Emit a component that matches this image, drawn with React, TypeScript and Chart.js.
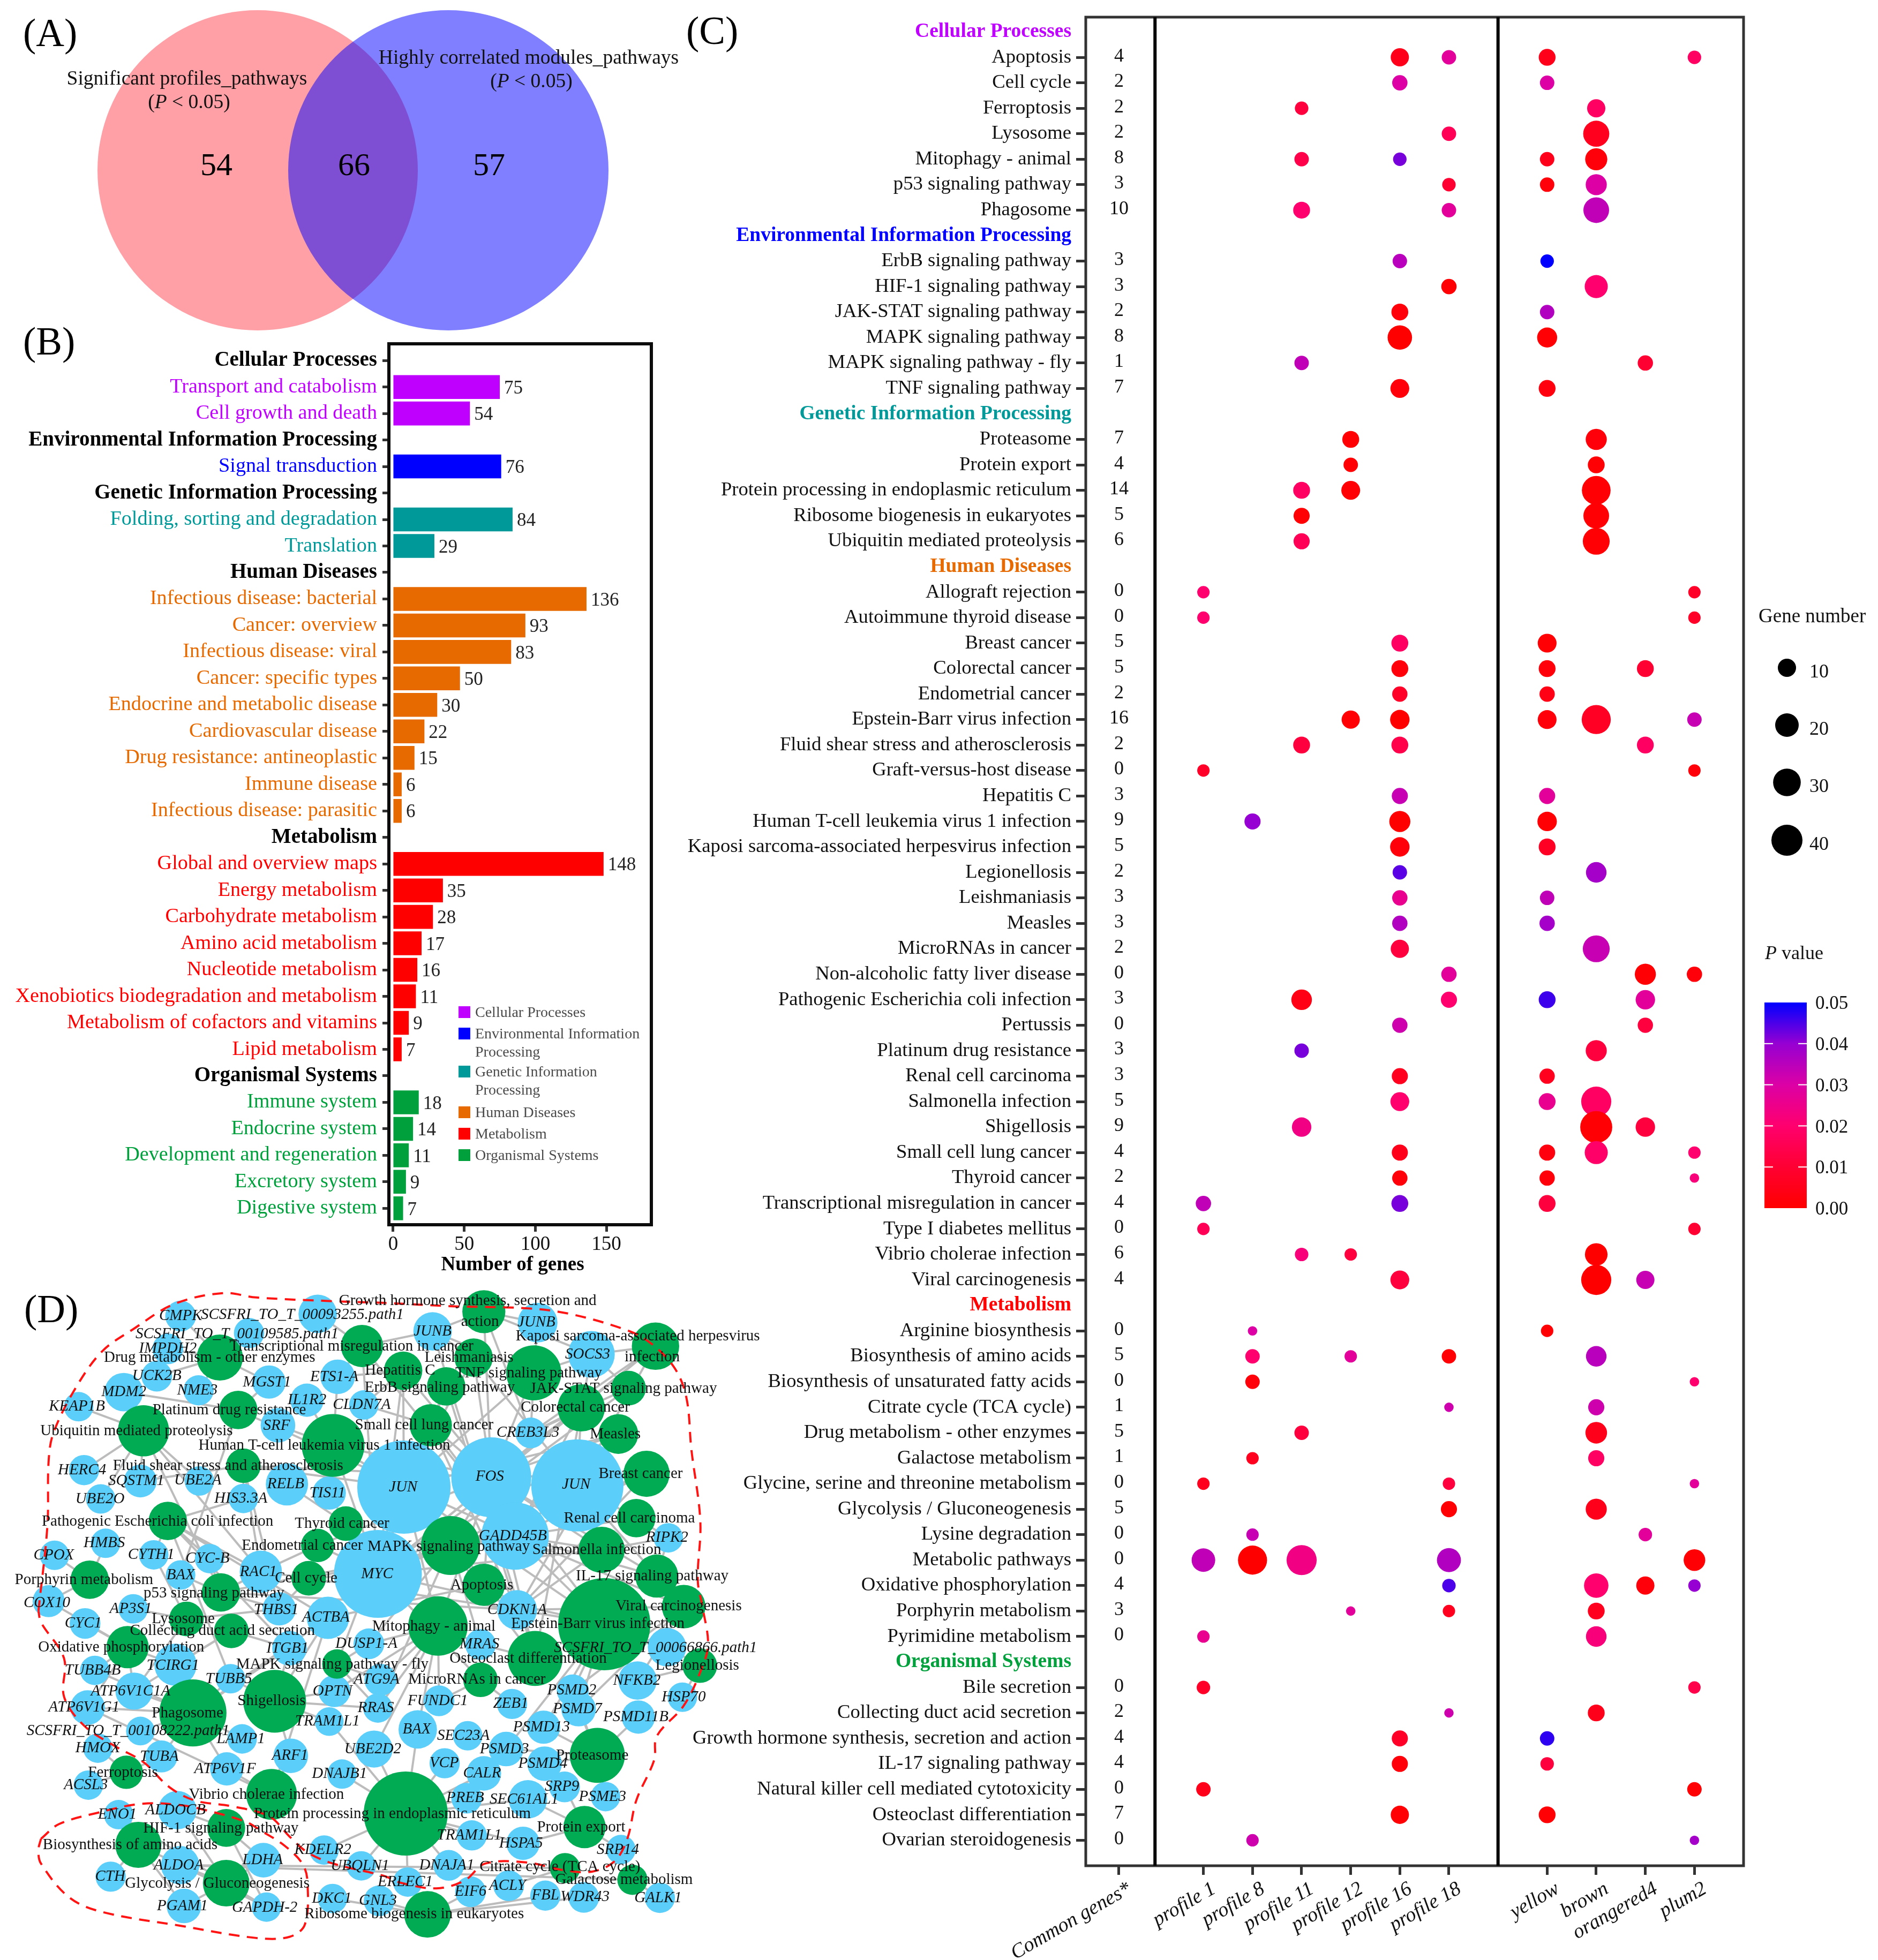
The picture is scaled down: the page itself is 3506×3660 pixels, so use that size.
import { useEffect, useRef } from "react";
import { Chart, registerables } from "chart.js";

Chart.register(...registerables);

const SERIF = '"Liberation Serif", serif';
Chart.defaults.font.family = SERIF;

/* ---------- Panel A: Venn ---------- */
const vennSets = [
  { x: 481, y: 318, r: 299 },
  { x: 837, y: 318, r: 299 },
];
const vennCounts = ["54", "66", "57"];

/* ---------- Panel B: bars ---------- */
const barGroupNames = ["Cellular Processes", "Environmental Information Processing", "Genetic Information Processing", "Human Diseases", "Metabolism", "Organismal Systems"];
const groupColors = ["#bf00ff", "#0000ff", "#009999", "#e66a00", "#ff0000", "#00a03c"];
const barCategories = [
  ["Transport and catabolism", "Cell growth and death"],
  ["Signal transduction"],
  ["Folding, sorting and degradation", "Translation"],
  ["Infectious disease: bacterial", "Cancer: overview", "Infectious disease: viral", "Cancer: specific types", "Endocrine and metabolic disease", "Cardiovascular disease", "Drug resistance: antineoplastic", "Immune disease", "Infectious disease: parasitic"],
  ["Global and overview maps", "Energy metabolism", "Carbohydrate metabolism", "Amino acid metabolism", "Nucleotide metabolism", "Xenobiotics biodegradation and metabolism", "Metabolism of cofactors and vitamins", "Lipid metabolism"],
  ["Immune system", "Endocrine system", "Development and regeneration", "Excretory system", "Digestive system"],
];
const barLengths = [
  [75, 54],
  [76],
  [84, 29],
  [136, 93, 83, 47, 31, 22, 15, 6, 6],
  [148, 35, 28, 20, 17, 16, 11, 6],
  [18, 14, 11, 9, 7],
];
const barCountLabels = [
  [75, 54],
  [76],
  [84, 29],
  [136, 93, 83, 50, 30, 22, 15, 6, 6],
  [148, 35, 28, 17, 16, 11, 9, 7],
  [18, 14, 11, 9, 7],
];
const barXTicks = [0, 50, 100, 150];

/* ---------- Panel C: dot plot ---------- */
const pathwayGroups = [
  ["Apoptosis", "Cell cycle", "Ferroptosis", "Lysosome", "Mitophagy - animal", "p53 signaling pathway", "Phagosome"],
  ["ErbB signaling pathway", "HIF-1 signaling pathway", "JAK-STAT signaling pathway", "MAPK signaling pathway", "MAPK signaling pathway - fly", "TNF signaling pathway"],
  ["Proteasome", "Protein export", "Protein processing in endoplasmic reticulum", "Ribosome biogenesis in eukaryotes", "Ubiquitin mediated proteolysis"],
  ["Allograft rejection", "Autoimmune thyroid disease", "Breast cancer", "Colorectal cancer", "Endometrial cancer", "Epstein-Barr virus infection", "Fluid shear stress and atherosclerosis", "Graft-versus-host disease", "Hepatitis C", "Human T-cell leukemia virus 1 infection", "Kaposi sarcoma-associated herpesvirus infection", "Legionellosis", "Leishmaniasis", "Measles", "MicroRNAs in cancer", "Non-alcoholic fatty liver disease", "Pathogenic Escherichia coli infection", "Pertussis", "Platinum drug resistance", "Renal cell carcinoma", "Salmonella infection", "Shigellosis", "Small cell lung cancer", "Thyroid cancer", "Transcriptional misregulation in cancer", "Type I diabetes mellitus", "Vibrio cholerae infection", "Viral carcinogenesis"],
  ["Arginine biosynthesis", "Biosynthesis of amino acids", "Biosynthesis of unsaturated fatty acids", "Citrate cycle (TCA cycle)", "Drug metabolism - other enzymes", "Galactose metabolism", "Glycine, serine and threonine metabolism", "Glycolysis / Gluconeogenesis", "Lysine degradation", "Metabolic pathways", "Oxidative phosphorylation", "Porphyrin metabolism", "Pyrimidine metabolism"],
  ["Bile secretion", "Collecting duct acid secretion", "Growth hormone synthesis, secretion and action", "IL-17 signaling pathway", "Natural killer cell mediated cytotoxicity", "Osteoclast differentiation", "Ovarian steroidogenesis"],
];
const commonGeneCounts = [
  [4, 2, 2, 2, 8, 3, 10],
  [3, 3, 2, 8, 1, 7],
  [7, 4, 14, 5, 6],
  [0, 0, 5, 5, 2, 16, 2, 0, 3, 9, 5, 2, 3, 3, 2, 0, 3, 0, 3, 3, 5, 9, 4, 2, 4, 0, 6, 4],
  [0, 5, 0, 1, 5, 1, 0, 5, 0, 0, 4, 3, 0],
  [0, 2, 4, 4, 0, 7, 0],
];
const columnNames = ["Common genes*", "profile 1", "profile 8", "profile 11", "profile 12", "profile 16", "profile 18", "yellow", "brown", "orangered4", "plum2"];
const columnPositions = [0, 1.72, 2.72, 3.72, 4.72, 5.72, 6.72, 8.72, 9.72, 10.72, 11.72];
const facetDividers = [0.734, 7.72];

// each dot: [row index, gene number, P value]
const profile1 = [[22, 3, 0.02], [23, 3, 0.02], [29, 3, 0.008], [46, 6, 0.034], [47, 3, 0.016], [57, 3, 0.006], [60, 20, 0.034], [63, 3, 0.026], [65, 4, 0.008], [69, 5, 0.005]];
const profile8 = [[31, 7, 0.04], [51, 1, 0.03], [52, 5, 0.02], [53, 5, 0.002], [56, 3, 0.006], [59, 3, 0.033], [60, 34, 0], [71, 3, 0.032]];
const profile11 = [[3, 4, 0.012], [5, 5, 0.014], [7, 8, 0.02], [13, 5, 0.034], [18, 8, 0.018], [19, 7, 0.001], [20, 7, 0.016], [28, 8, 0.012], [38, 14, 0.004], [40, 5, 0.042], [43, 12, 0.024], [48, 4, 0.022], [55, 5, 0.012], [60, 37, 0.024]];
const profile12 = [[16, 8, 0.001], [17, 5, 0.001], [18, 11, 0.001], [27, 10, 0.001], [48, 3, 0.012], [52, 3, 0.028], [62, 1, 0.028]];
const profile16 = [[1, 10, 0.005], [2, 6, 0.03], [5, 4, 0.042], [9, 5, 0.035], [11, 8, 0.002], [12, 22, 0], [14, 11, 0.002], [24, 8, 0.018], [25, 8, 0.002], [26, 6, 0.008], [27, 12, 0], [28, 8, 0.014], [30, 7, 0.033], [31, 15, 0], [32, 12, 0.002], [33, 5, 0.044], [34, 6, 0.026], [35, 6, 0.036], [36, 10, 0.012], [39, 6, 0.032], [41, 7, 0.006], [42, 11, 0.02], [44, 7, 0.005], [45, 6, 0.002], [46, 8, 0.042], [49, 11, 0.012], [67, 7, 0.008], [68, 7, 0.002], [70, 10, 0.001]];
const profile18 = [[1, 5, 0.028], [4, 5, 0.016], [6, 4, 0.01], [7, 5, 0.028], [10, 6, 0.001], [37, 6, 0.028], [38, 7, 0.02], [52, 5, 0.001], [54, 1, 0.032], [57, 3, 0.012], [58, 7, 0.001], [60, 21, 0.036], [61, 4, 0.045], [62, 3, 0.006], [66, 1, 0.032]];
const moduleYellow = [[1, 8, 0.005], [2, 5, 0.03], [5, 5, 0.005], [6, 5, 0.002], [9, 4, 0.05], [11, 5, 0.036], [12, 13, 0.001], [14, 8, 0.003], [24, 11, 0.001], [25, 8, 0.002], [26, 6, 0.004], [27, 11, 0.002], [30, 7, 0.028], [31, 12, 0.001], [32, 8, 0.007], [34, 5, 0.034], [35, 6, 0.038], [38, 8, 0.046], [41, 6, 0.006], [42, 8, 0.026], [44, 7, 0.003], [45, 6, 0.002], [46, 8, 0.012], [51, 3, 0.001], [67, 5, 0.047], [68, 4, 0.012], [70, 8, 0.001]];
const moduleBrown = [[3, 10, 0.018], [4, 26, 0.006], [5, 17, 0.002], [6, 15, 0.03], [7, 25, 0.034], [10, 19, 0.02], [16, 15, 0.002], [17, 8, 0.001], [18, 33, 0.001], [19, 25, 0.001], [20, 28, 0.001], [27, 34, 0.007], [33, 14, 0.038], [36, 28, 0.033], [40, 15, 0.012], [42, 37, 0.018], [43, 43, 0.001], [44, 19, 0.019], [48, 18, 0], [49, 37, 0], [52, 14, 0.035], [54, 7, 0.032], [55, 16, 0.005], [56, 7, 0.018], [58, 15, 0.005], [61, 22, 0.02], [62, 8, 0.006], [63, 14, 0.022], [66, 8, 0.005]];
const moduleOrangered4 = [[13, 6, 0.01], [25, 8, 0.01], [28, 8, 0.018], [37, 15, 0.001], [38, 12, 0.028], [39, 6, 0.012], [43, 12, 0.012], [49, 10, 0.033], [59, 4, 0.028], [61, 10, 0.002]];
const modulePlum2 = [[1, 4, 0.018], [22, 3, 0.008], [23, 3, 0.008], [27, 5, 0.033], [29, 3, 0.002], [37, 6, 0.002], [44, 3, 0.02], [45, 1, 0.022], [47, 3, 0.01], [53, 1, 0.02], [57, 1, 0.028], [60, 16, 0.001], [61, 3, 0.04], [65, 3, 0.014], [69, 5, 0.001], [71, 1, 0.038]];
const dotColumns = [profile1, profile8, profile11, profile12, profile16, profile18, moduleYellow, moduleBrown, moduleOrangered4, modulePlum2];
const geneLegendValues = [10, 20, 30, 40];
const pLegendValues = ["0.05", "0.04", "0.03", "0.02", "0.01", "0.00"];
const pColorStops: [number, number[]][] = [[0, [255, 0, 0]], [0.01, [255, 0, 51]], [0.02, [255, 0, 110]], [0.03, [220, 0, 165]], [0.04, [150, 0, 210]], [0.05, [0, 0, 255]]];

/* ---------- Panel D: network (layout read from four quadrants of the picture) ---------- */
// node: [label, layout x, layout y, node width, label x, label y, second-line label x]
const genesNW: any[] = [
  ["CMPK", 705, 190, 120], ["SCSFRI_TO_T_00093255.path1", 1240, 180, 150, 1180, 185], ["SCSFRI_TO_T_00109585.path1", 972, 268, 118, 925, 272],
  ["IMPDH2", 655, 340, 120], ["UCK2B", 612, 465, 120], ["MDM2", 483, 538, 150], ["NME3", 775, 530, 118, 770, 530], ["MGST1", 1050, 492, 130, 1042, 494],
  ["ETS1-A", 1318, 468, 135, 1305, 468], ["IL1R2", 1198, 575, 130], ["CLDN7A", 1420, 597, 115, 1412, 597], ["KEAP1B", 307, 605, 115, 300, 605],
  ["SRF", 1085, 690, 135, 1080, 692], ["HERC4", 328, 895, 118, 320, 895], ["SQSTM1", 548, 945, 128, 532, 945], ["UBE2A", 778, 945, 115, 772, 943],
  ["RELB", 1120, 960, 165, 1115, 960], ["TIS11", 1285, 1000, 130, 1278, 1000], ["HIS3.3A", 950, 1025, 115, 940, 1025], ["UBE2O", 393, 1027, 115, 390, 1027],
  ["HMBS", 412, 1230, 115, 407, 1230], ["CPOX", 213, 1285, 115, 210, 1285], ["CYTH1", 600, 1283, 115, 590, 1283], ["CYC-B", 818, 1300, 115, 810, 1300],
  ["BAX", 705, 1375, 115], ["RAC1", 1018, 1360, 165, 1008, 1360], ["COX10", 190, 1495, 125, 183, 1503], ["AP3S1", 520, 1530, 115, 510, 1530],
  ["THBS1", 1090, 1530, 130, 1078, 1535], ["MYC", 1475, 1370, 343, 1472, 1370],
];
const genesNE: any[] = [
  ["JUN", 113, 973, 364, 110, 975], ["FOS", 454, 928, 312, 448, 925], ["JUN#2", 790, 965, 360, 785, 962], ["GADD45B", 547, 1197, 263, 538, 1197],
  ["CREB3L3", 608, 725, 120, 597, 725], ["SOCS3", 845, 365, 182, 830, 365], ["JUNB", 225, 260, 150], ["JUNB#2", 635, 220, 155, 630, 220],
  ["RIPK2", 1145, 1205, 115, 1140, 1205], ["CDKN1A", 555, 1535, 155],
];
const genesSW: any[] = [
  ["CYC1", 332, 75, 120, 325, 75], ["TUBB4B", 370, 283, 115, 362, 283], ["TCIRG1", 685, 258, 165, 675, 262], ["ITGB1", 1130, 185, 135, 1122, 185],
  ["DUSP1-A", 1440, 165, 120, 1430, 165], ["ACTBA", 1280, 50, 165, 1272, 48], ["TUBB5", 900, 320, 115, 893, 322], ["ATG9A", 1485, 325, 125, 1470, 325],
  ["OPTN", 1305, 375, 125, 1298, 375], ["ATP6V1C1A", 523, 375, 145, 510, 375], ["ATP6V1G1", 342, 448, 135, 328, 448], ["RRAS", 1475, 450, 115, 1467, 450],
  ["TRAM1L1", 1285, 510, 112, 1278, 510], ["SCSFRI_TO_T_00108222.path1", 548, 552, 112, 500, 552], ["LAMP1", 945, 587, 115, 940, 587], ["HMOX", 382, 628, 115],
  ["UBE2D2", 1460, 632, 145, 1455, 632], ["ARF1", 1135, 662, 135, 1132, 662], ["TUBA", 630, 665, 125, 622, 665], ["ATP6V1F", 885, 720, 130, 878, 720],
  ["DNAJB1", 1335, 743, 115, 1325, 743], ["ACSL3", 345, 792, 115, 335, 792], ["ALDOCB", 692, 903, 150, 685, 903], ["ENO1", 463, 923, 115, 458, 923],
  ["KDELR2", 1265, 1080, 115, 1260, 1080], ["LDHA", 1028, 1125, 135, 1025, 1125], ["UBQLN1", 1410, 1150, 115, 1405, 1150], ["ALDOA", 703, 1147, 150, 697, 1147],
  ["CTH", 432, 1198, 118, 430, 1198], ["DKC1", 1298, 1295, 115, 1295, 1295], ["GNL3", 1480, 1305, 120, 1475, 1305], ["PGAM1", 718, 1328, 135, 712, 1328],
  ["GAPDH-2", 1040, 1333, 115, 1033, 1335],
];
const genesSE: any[] = [
  ["MRAS", 412, 168, 120, 408, 168], ["SCSFRI_TO_T_00066866.path1", 1140, 180, 150, 1095, 183], ["NFKB2", 1025, 328, 150, 1022, 328], ["PSMD2", 772, 372, 125, 768, 372],
  ["FUNDC1", 250, 418, 120, 245, 418], ["ZEB1", 535, 432, 118, 530, 432], ["HSP70", 1200, 402, 115, 1205, 402], ["PSMD7", 795, 455, 135, 790, 455],
  ["PSMD11B", 1028, 490, 130, 1018, 490], ["PSMD13", 658, 535, 130, 650, 535], ["BAX#2", 167, 545, 150, 163, 545], ["SEC23A", 362, 573, 115, 345, 573],
  ["PSMD3", 512, 632, 135, 505, 632], ["PSMD4", 662, 697, 135, 655, 697], ["VCP", 272, 695, 118, 270, 695], ["CALR", 425, 740, 135, 418, 740],
  ["SRP9", 740, 800, 120, 730, 800], ["PREB", 358, 850, 120, 352, 850], ["PSME3", 900, 843, 115, 888, 843], ["SEC61AL1", 597, 855, 150, 582, 855],
  ["TRAM1L1#2", 378, 1015, 118, 368, 1015], ["HSPA5", 578, 1050, 130, 570, 1050], ["SRP14", 960, 1078, 115, 948, 1080], ["DNAJA1", 288, 1148, 120, 280, 1148],
  ["ERLEC1", 128, 1222, 115, 118, 1222], ["EIF6", 373, 1265, 120], ["ACLY", 522, 1238, 120, 517, 1238], ["FBL", 665, 1282, 118, 665, 1280],
  ["WDR43", 815, 1290, 120, 820, 1288], ["GALK1", 1112, 1292, 118, 1105, 1292],
];
const pathwaysNW: any[] = [
  ["Transcriptional misregulation in cancer", 1413, 327, 165, 1372, 330], ["Drug metabolism - other enzymes", 858, 380, 180, 818, 382], ["Platinum drug resistance", 930, 620, 150, 895, 620],
  ["Ubiquitin mediated proteolysis", 560, 715, 200, 533, 717], ["Human T-cell leukemia virus 1 infection", 1300, 782, 245, 1266, 782], ["Fluid shear stress and atherosclerosis", 950, 875, 135, 890, 877],
  ["Pathogenic Escherichia coli infection", 655, 1128, 150, 615, 1130], ["Thyroid cancer", 1350, 1140, 135, 1335, 1140], ["Endometrial cancer", 1240, 1240, 130, 1180, 1240],
  ["Cell cycle", 1205, 1390, 135, 1195, 1390], ["Porphyrin metabolism", 350, 1397, 150, 328, 1398], ["p53 signaling pathway", 862, 1455, 150, 835, 1460],
];
const pathwaysNE: any[] = [
  ["Small cell lung cancer", 218, 690, 165, 192, 690], ["Hepatitis C", 110, 440, 150, 98, 440], ["ErbB signaling pathway", 278, 512, 150, 253, 517],
  ["Growth hormone synthesis, secretion and\naction", 425, 170, 168, 362, 170, 410], ["Leishmaniasis", 385, 380, 150, 367, 382], ["TNF signaling pathway", 620, 450, 215, 600, 452],
  ["Kaposi sarcoma-associated herpesvirus\ninfection", 1095, 328, 185, 1026, 330, 1082], ["JAK-STAT signaling pathway", 990, 520, 135, 970, 522], ["Colorectal cancer", 805, 610, 185, 782, 610],
  ["Measles", 950, 730, 155, 938, 732], ["Breast cancer", 1060, 912, 180, 1037, 912], ["MAPK signaling pathway", 295, 1240, 230, 288, 1245],
  ["Renal cell carcinoma", 1020, 1115, 150, 993, 1115], ["Salmonella infection", 885, 1260, 180, 866, 1260], ["Apoptosis", 425, 1420, 165, 417, 1422],
  ["IL-17 signaling pathway", 1100, 1380, 168, 1082, 1382], ["Viral carcinogenesis", 1205, 1520, 170, 1185, 1518],
];
const pathwaysSW: any[] = [
  ["Lysosome", 728, 55, 135, 715, 55], ["Collecting duct acid secretion", 903, 108, 135, 868, 108], ["Oxidative phosphorylation", 498, 180, 165, 473, 182],
  ["MAPK signaling pathway - fly", 1315, 255, 115, 1297, 258], ["Phagosome", 753, 472, 262, 732, 473], ["Shigellosis", 1072, 420, 245, 1060, 420], ["Ferroptosis", 493, 735, 130, 480, 738],
  ["Vibrio cholerae infection", 1060, 833, 198, 1040, 835], ["HIF-1 signaling pathway", 883, 982, 148, 862, 985], ["Biosynthesis of amino acids", 540, 1057, 180, 508, 1058],
  ["Glycolysis / Gluconeogenesis", 883, 1227, 182, 848, 1228],
];
const pathwaysSE: any[] = [
  ["Epstein-Barr virus infection", 895, 78, 360, 870, 78], ["Mitophagy - animal", 246, 86, 232, 230, 88], ["Osteoclast differentiation", 625, 230, 215, 598, 232], ["MicroRNAs in cancer", 412, 325, 135, 398, 325],
  ["Legionellosis", 1268, 262, 135, 1258, 262], ["Proteasome", 868, 660, 215, 848, 662], ["Protein processing in endoplasmic reticulum", 120, 918, 328, 68, 920],
  ["Protein export", 818, 978, 165, 805, 980], ["Citrate cycle (TCA cycle)", 742, 1160, 118, 722, 1155], ["Galactose metabolism", 1005, 1212, 118, 972, 1212],
  ["Ribosome biogenesis in eukaryotes", 205, 1365, 182, 153, 1365],
];
const pathwayGeneLinks: [string, string[]][] = [
  ["Drug metabolism - other enzymes", ["CMPK", "IMPDH2", "UCK2B", "NME3", "MGST1", "SCSFRI_TO_T_00109585.path1"]],
  ["Transcriptional misregulation in cancer", ["SCSFRI_TO_T_00093255.path1", "ETS1-A", "JUNB", "MYC", "GADD45B"]],
  ["Hepatitis C", ["ETS1-A", "CLDN7A", "FOS", "JUN", "MYC"]],
  ["ErbB signaling pathway", ["JUN", "MYC", "CDKN1A"]],
  ["Platinum drug resistance", ["MDM2", "MGST1", "BAX", "GADD45B"]],
  ["Ubiquitin mediated proteolysis", ["KEAP1B", "HERC4", "UBE2O", "UBE2A", "SQSTM1", "MDM2", "RAC1"]],
  ["Human T-cell leukemia virus 1 infection", ["SRF", "ETS1-A", "TIS11", "RELB", "FOS", "JUN", "MYC", "IL1R2"]],
  ["Fluid shear stress and atherosclerosis", ["HIS3.3A", "JUN", "FOS", "RAC1", "SQSTM1", "THBS1"]],
  ["Pathogenic Escherichia coli infection", ["CYC-B", "RAC1", "ACTBA", "TUBB5", "ITGB1", "CYTH1", "HIS3.3A"]],
  ["Thyroid cancer", ["TIS11", "MYC", "RELB"]],
  ["Endometrial cancer", ["MYC", "FOS", "RAC1"]],
  ["Cell cycle", ["MYC", "GADD45B", "CDKN1A", "RAC1", "THBS1"]],
  ["Porphyrin metabolism", ["CPOX", "COX10", "HMBS"]],
  ["p53 signaling pathway", ["BAX", "CYC-B", "THBS1", "GADD45B", "CDKN1A", "MDM2", "RAC1"]],
  ["Lysosome", ["AP3S1", "CYTH1", "ATP6V1C1A", "THBS1"]],
  ["Collecting duct acid secretion", ["ATP6V1C1A", "TCIRG1", "ITGB1"]],
  ["Oxidative phosphorylation", ["COX10", "CYC1", "TCIRG1", "ATP6V1C1A", "ATP6V1G1", "TUBB4B"]],
  ["Phagosome", ["TUBB4B", "ATP6V1C1A", "ATP6V1G1", "TUBA", "TUBB5", "LAMP1", "ATP6V1F", "ITGB1", "ACTBA", "SCSFRI_TO_T_00108222.path1", "TCIRG1"]],
  ["Shigellosis", ["TUBB5", "ACTBA", "ITGB1", "ARF1", "OPTN", "TRAM1L1", "RRAS"]],
  ["Ferroptosis", ["ACSL3", "HMOX", "TUBA"]],
  ["Vibrio cholerae infection", ["ATP6V1F", "ARF1", "ATP6V1G1", "ACTBA"]],
  ["Protein processing in endoplasmic reticulum", ["KDELR2", "UBQLN1", "ERLEC1", "DNAJA1", "TRAM1L1#2", "PREB", "CALR", "VCP", "BAX#2", "UBE2D2", "DNAJB1", "SEC61AL1", "HSPA5", "TRAM1L1"]],
  ["MAPK signaling pathway - fly", ["JUN", "DUSP1-A", "RRAS", "OPTN", "ATG9A"]],
  ["Mitophagy - animal", ["ATG9A", "OPTN", "JUN", "FOS", "BAX#2", "RRAS", "FUNDC1", "MRAS", "DUSP1-A", "UBE2D2"]],
  ["Osteoclast differentiation", ["JUN", "FOS", "JUNB", "SOCS3", "MRAS"]],
  ["MicroRNAs in cancer", ["ZEB1", "FUNDC1", "MYC"]],
  ["Proteasome", ["PSMD2", "PSMD7", "PSMD11B", "PSMD13", "PSMD3", "PSMD4", "PSME3"]],
  ["Protein export", ["SEC61AL1", "HSPA5", "SRP9", "SRP14"]],
  ["Ribosome biogenesis in eukaryotes", ["DKC1", "GNL3", "EIF6", "FBL", "WDR43"]],
  ["Citrate cycle (TCA cycle)", ["ACLY", "ALDOA"]],
  ["Galactose metabolism", ["GALK1", "ALDOA"]],
  ["Glycolysis / Gluconeogenesis", ["ALDOA", "LDHA", "GAPDH-2", "PGAM1", "ENO1", "ALDOCB"]],
  ["Biosynthesis of amino acids", ["CTH", "ENO1", "ALDOA", "PGAM1", "GAPDH-2"]],
  ["HIF-1 signaling pathway", ["ALDOCB", "LDHA", "GAPDH-2"]],
  ["Epstein-Barr virus infection", ["JUN", "FOS", "MYC", "GADD45B", "CDKN1A", "PSMD2", "PSMD7", "PSMD13", "PSMD3", "NFKB2", "SCSFRI_TO_T_00066866.path1"]],
  ["Viral carcinogenesis", ["JUN#2", "CDKN1A", "NFKB2", "PSMD2", "PSMD7", "GADD45B"]],
  ["Legionellosis", ["NFKB2", "HSP70", "SCSFRI_TO_T_00066866.path1"]],
  ["Salmonella infection", ["FOS", "JUN#2", "RIPK2", "GADD45B", "MYC", "CDKN1A"]],
  ["IL-17 signaling pathway", ["FOS", "JUN#2", "RIPK2", "GADD45B"]],
  ["Renal cell carcinoma", ["JUN#2", "RIPK2", "GADD45B"]],
  ["Breast cancer", ["JUN#2", "FOS", "MYC", "CDKN1A", "GADD45B"]],
  ["Measles", ["JUN", "FOS", "JUN#2", "CDKN1A", "MYC"]],
  ["Colorectal cancer", ["FOS", "JUN#2", "CREB3L3", "MYC", "GADD45B"]],
  ["JAK-STAT signaling pathway", ["SOCS3", "MYC", "CREB3L3"]],
  ["Kaposi sarcoma-associated herpesvirus", ["SOCS3", "JUN#2", "FOS", "MYC", "CREB3L3"]],
  ["TNF signaling pathway", ["SOCS3", "JUNB", "JUNB#2", "JUN", "FOS", "CREB3L3"]],
  ["Growth hormone synthesis, secretion and", ["JUNB", "JUNB#2", "SOCS3", "CREB3L3", "FOS"]],
  ["Leishmaniasis", ["JUN", "FOS", "JUNB", "JUN#2"]],
  ["Small cell lung cancer", ["MYC", "CDKN1A", "GADD45B", "CLDN7A", "FOS"]],
  ["MAPK signaling pathway", ["JUN", "FOS", "JUN#2", "MYC", "GADD45B", "RRAS", "MRAS", "DUSP1-A", "CDKN1A"]],
  ["Apoptosis", ["JUN", "FOS", "GADD45B", "CDKN1A", "ACTBA"]],
];
const outerBoundary: [string, number, number][] = [
  ["nw", 150, 1540], ["nw", 185, 1150], ["nw", 190, 850], ["nw", 210, 720], ["nw", 300, 510], ["nw", 400, 350], ["nw", 520, 250], ["nw", 680, 135], ["nw", 870, 85], ["nw", 1000, 105], ["nw", 1300, 122],
  ["ne", 40, 130], ["ne", 300, 145], ["ne", 600, 155], ["ne", 760, 180], ["ne", 960, 245], ["ne", 1060, 300], ["ne", 1165, 420], ["ne", 1215, 560], ["ne", 1235, 800], ["ne", 1270, 1130], ["ne", 1260, 1400], ["ne", 1280, 1530],
  ["se", 1300, 170], ["se", 1270, 290], ["se", 1205, 440], ["se", 1100, 575], ["se", 1090, 680], ["se", 1020, 860], ["se", 985, 1030], ["se", 935, 1130], ["se", 850, 1175], ["se", 740, 1170], ["se", 590, 1135], ["se", 430, 1140], ["se", 350, 1215], ["se", 240, 1250], ["se", 100, 1225],
  ["sw", 1500, 1195], ["sw", 1300, 1140], ["sw", 1200, 1090], ["sw", 1130, 1020], ["sw", 1050, 930], ["sw", 900, 885], ["sw", 760, 860], ["sw", 660, 800], ["sw", 560, 690], ["sw", 450, 620], ["sw", 330, 530], ["sw", 250, 400], ["sw", 250, 230], ["sw", 160, 70], ["nw", 150, 1540],
];
const innerBoundary: [string, number, number][] = [
  ["sw", 160, 1030], ["sw", 230, 965], ["sw", 380, 915], ["sw", 550, 875], ["sw", 700, 880], ["sw", 810, 905], ["sw", 960, 955], ["sw", 1020, 995], ["sw", 1110, 1060], ["sw", 1180, 1140], ["sw", 1200, 1220], ["sw", 1190, 1410], ["sw", 1130, 1465], ["sw", 1000, 1470], ["sw", 700, 1415], ["sw", 400, 1355], ["sw", 270, 1290], ["sw", 160, 1140], ["sw", 150, 1080], ["sw", 160, 1030],
];

/* ---------- helpers ---------- */
const quadOrigin: any = { nw: [0, 2380, 0.408], ne: [700, 2380, 0.408], sw: [0, 3000, 0.421], se: [700, 3000, 0.421] };
const qx = (q: string, x: number) => quadOrigin[q][0] + 0.4783 * x;
const qy = (q: string, y: number) => quadOrigin[q][1] + quadOrigin[q][2] * y;
const geneRadius = (n: number) => 5 + 3.8 * Math.sqrt(n);

function pColor(p: number) {
  for (let i = 1; i < pColorStops.length; i++) {
    if (p <= pColorStops[i][0]) {
      const [a, ca] = pColorStops[i - 1];
      const [b, cb] = pColorStops[i];
      const t = (p - a) / (b - a);
      const c = ca.map((v, k) => Math.round(v + (cb[k] - v) * t));
      return `rgb(${c[0]},${c[1]},${c[2]})`;
    }
  }
  return "rgb(0,0,255)";
}

function put(ctx: any, s: string, x: number, y: number, font: string, color: string, align = "center") {
  ctx.font = font;
  ctx.fillStyle = color;
  ctx.textAlign = align;
  ctx.textBaseline = "middle";
  ctx.fillText(s, x, y);
}
function putRuns(ctx: any, runs: [string, boolean][], cx: number, y: number, size: number, color = "#111", left = false) {
  const fnt = (i: boolean) => `${i ? "italic " : ""}${size}px ${SERIF}`;
  let w = 0;
  runs.forEach(([t, i]) => { ctx.font = fnt(i); w += ctx.measureText(t).width; });
  let x = left ? cx : cx - w / 2;
  runs.forEach(([t, i]) => {
    put(ctx, t, x, y, fnt(i), color, "left");
    x += ctx.measureText(t).width;
  });
}
const noInteraction: any = { animation: false, responsive: false, devicePixelRatio: 1, events: [] };
const quietPlugins: any = { legend: { display: false }, tooltip: { enabled: false }, title: { display: false } };

/* ---------- config builders ---------- */
function vennConfig(): any {
  return {
    type: "bubble",
    data: {
      datasets: [
        { data: [vennSets[1]], backgroundColor: "rgba(0,0,255,0.5)", borderWidth: 0 },
        { data: [vennSets[0]], backgroundColor: "rgb(255,159,166)", borderWidth: 0 },
      ],
    },
    options: {
      ...noInteraction,
      layout: { padding: 0, autoPadding: false },
      plugins: quietPlugins,
      scales: { x: { display: false, min: 0, max: 1270 }, y: { display: false, min: 0, max: 630, reverse: true } },
    },
    plugins: [{
      id: "vennText",
      afterDatasetsDraw(chart: any) {
        const c = chart.ctx;
        const sx = chart.scales.x, sy = chart.scales.y;
        const big = `60px ${SERIF}`;
        const num = [404, 661, 913];
        vennCounts.forEach((t, i) => put(c, t, sx.getPixelForValue(num[i]), sy.getPixelForValue(311), big, "#000"));
        const f = `37.5px ${SERIF}`;
        put(c, "Significant profiles_pathways", 349, 148, f, "#111");
        putRuns(c, [["(", false], ["P", true], [" < 0.05)", false]], 353, 192, 37.5);
        put(c, "Highly correlated modules_pathways", 987, 109, f, "#111");
        putRuns(c, [["(", false], ["P", true], [" < 0.05)", false]], 992, 153, 37.5);
      },
    }],
  };
}

function barConfig(top: number): any {
  const labels: string[] = [], colors: string[] = [], bold: boolean[] = [];
  const bars: any[] = [], barColors: string[] = [], counts: number[] = [];
  barGroupNames.forEach((g, gi) => {
    labels.push(g); colors.push("#000"); bold.push(true);
    barCategories[gi].forEach((name, k) => {
      bars.push({ x: barLengths[gi][k], y: labels.length });
      barColors.push(groupColors[gi]);
      counts.push(barCountLabels[gi][k]);
      labels.push(name); colors.push(groupColors[gi]); bold.push(false);
    });
  });
  return {
    type: "bar",
    data: { datasets: [{ data: bars, backgroundColor: barColors, barPercentage: 0.9, categoryPercentage: 1, borderWidth: 0 }] },
    options: {
      ...noInteraction,
      indexAxis: "y",
      layout: { padding: { left: 0, right: 1270 - 1216, top: 642 - top, bottom: 0 }, autoPadding: false },
      plugins: quietPlugins,
      scales: {
        x: {
          type: "linear", min: -3, max: 181.6,
          afterFit: (s: any) => { s.height = top + 1820 - 2287; },
          afterBuildTicks: (s: any) => { s.ticks = barXTicks.map((value) => ({ value })); },
          grid: { drawOnChartArea: false, tickLength: 13, tickWidth: 5, tickColor: "#333" },
          border: { display: false },
          ticks: { color: "#111", font: { size: 37 }, padding: 2, maxRotation: 0, autoSkip: false },
        },
        y: {
          type: "linear", reverse: true, offset: false, min: -0.63, max: labels.length - 1 + 0.62,
          afterFit: (s: any) => { s.width = 726; },
          afterBuildTicks: (s: any) => { s.ticks = labels.map((_, value) => ({ value })); },
          grid: { offset: false, drawOnChartArea: false, tickLength: 12, tickWidth: 5, tickColor: "#333" },
          border: { display: false },
          ticks: {
            autoSkip: false, padding: 10,
            callback: (_v: any, i: number) => labels[i],
            color: (c: any) => colors[c.index],
            font: (c: any) => (bold[c.index] ? { size: 39, weight: "bold" } : { size: 38.2, weight: "normal" }),
          },
        },
      },
    },
    plugins: [{
      id: "barExtras",
      afterDatasetsDraw(chart: any) {
        const c = chart.ctx, a = chart.chartArea;
        c.save();
        c.lineWidth = 6; c.strokeStyle = "#0c0c0c";
        c.strokeRect(a.left, a.top, a.right - a.left, a.bottom - a.top);
        chart.getDatasetMeta(0).data.forEach((b: any, i: number) => {
          put(c, String(counts[i]), b.x + 8, b.y + 3, `35px ${SERIF}`, "#222", "left");
        });
        put(c, "Number of genes", 957, 2362 - top, `bold 37px ${SERIF}`, "#000");
        const lx = 856, tx = 887, sz = 22, f = `28px ${SERIF}`, tc = "#4a4a4a";
        const rows: [number, string[], number][] = [
          [1890, ["Cellular Processes"], 0],
          [1930, ["Environmental Information", "Processing"], 1],
          [2001, ["Genetic Information", "Processing"], 2],
          [2077, ["Human Diseases"], 3],
          [2117, ["Metabolism"], 4],
          [2157, ["Organismal Systems"], 5],
        ];
        rows.forEach(([y, lines, gi]) => {
          c.fillStyle = groupColors[gi];
          c.fillRect(lx, y - top - sz / 2, sz, sz);
          lines.forEach((ln, k) => put(c, ln, tx, y - top + 2 + k * 34, f, tc, "left"));
        });
        c.restore();
      },
    }],
  };
}

function dotConfig(): any {
  const off = 1270;
  const labels: string[] = [], colors: string[] = [], bold: boolean[] = [];
  const common: (number | null)[] = [];
  barGroupNames.forEach((g, gi) => {
    labels.push(g); colors.push(groupColors[gi]); bold.push(true); common.push(null);
    pathwayGroups[gi].forEach((p, k) => {
      labels.push(p); colors.push("#111"); bold.push(false); common.push(commonGeneCounts[gi][k]);
    });
  });
  const datasets = dotColumns.map((col, ci) => ({
    label: columnNames[ci + 1],
    data: col.map(([row, n, p]) => ({ x: columnPositions[ci + 1], y: row, r: geneRadius(n), p })),
    backgroundColor: (c: any) => pColor(c.raw ? c.raw.p : 0),
    borderWidth: 0,
  }));
  return {
    type: "bubble",
    data: { datasets },
    options: {
      ...noInteraction,
      layout: { padding: { left: 0, right: 3506 - 3255, top: 32, bottom: 0 }, autoPadding: false },
      plugins: quietPlugins,
      scales: {
        x: {
          type: "linear", min: -0.676, max: 12.72,
          afterFit: (s: any) => { s.height = 3660 - 3484; },
          afterBuildTicks: (s: any) => { s.ticks = columnPositions.map((value) => ({ value })); },
          grid: { drawOnChartArea: false, tickLength: 17, tickWidth: 5, tickColor: "#333" },
          border: { display: false },
          ticks: {
            autoSkip: false, minRotation: 30, maxRotation: 30, padding: 4, labelOffset: 20, color: "#111",
            callback: (_v: any, i: number) => columnNames[i],
            font: { size: 38, style: "italic" },
          },
        },
        y: {
          type: "linear", reverse: true, min: -0.578, max: 72,
          afterFit: (s: any) => { s.width = 3255 - off - (3255 - 2027); },
          afterBuildTicks: (s: any) => { s.ticks = labels.map((_, value) => ({ value })); },
          grid: {
            drawOnChartArea: false, tickLength: 18, tickWidth: 5,
            tickColor: (c: any) => (bold[c.index] ? "rgba(0,0,0,0)" : "#333"),
          },
          border: { display: false },
          ticks: {
            autoSkip: false, padding: 9,
            callback: (_v: any, i: number) => labels[i],
            color: (c: any) => colors[c.index],
            font: (c: any) => (bold[c.index] ? { size: 37.5, weight: "bold" } : { size: 36.7, weight: "normal" }),
          },
        },
      },
    },
    plugins: [{
      id: "dotExtras",
      afterDatasetsDraw(chart: any) {
        const c = chart.ctx, a = chart.chartArea;
        const sx = chart.scales.x, sy = chart.scales.y;
        c.save();
        c.lineWidth = 5; c.strokeStyle = "#333";
        c.strokeRect(a.left, a.top, a.right - a.left, a.bottom - a.top);
        c.lineWidth = 6; c.strokeStyle = "#000";
        facetDividers.forEach((v) => {
          const x = sx.getPixelForValue(v);
          c.beginPath(); c.moveTo(x, a.top); c.lineTo(x, a.bottom); c.stroke();
        });
        common.forEach((n, i) => {
          if (n !== null) put(c, String(n), sx.getPixelForValue(columnPositions[0]), sy.getPixelForValue(i) - 2, `36px ${SERIF}`, "#111");
        });
        // legends
        put(c, "Gene number", 3283 - off, 1152, `37px ${SERIF}`, "#111", "left");
        const ly = [1247, 1354, 1461, 1569];
        geneLegendValues.forEach((v, i) => {
          c.fillStyle = "#000";
          c.beginPath(); c.arc(3336 - off, ly[i], geneRadius(v), 0, Math.PI * 2); c.fill();
          put(c, String(v), 3378 - off, ly[i] + 9, `36px ${SERIF}`, "#111", "left");
        });
        putRuns(c, [["P", true], [" value", false]], 3295 - off, 1782, 36, "#111", true);
        const bx = 3294 - off, bw = 79, bt = 1872, bb = 2256;
        const g = c.createLinearGradient(0, bb, 0, bt);
        pColorStops.forEach(([p, col]) => g.addColorStop(p / 0.05, `rgb(${col[0]},${col[1]},${col[2]})`));
        c.fillStyle = g;
        c.fillRect(bx, bt, bw, bb - bt);
        pLegendValues.forEach((t, i) => {
          const y = bt + (i * (bb - bt)) / 5;
          put(c, t, 3389 - off, y + 3, `35px ${SERIF}`, "#111", "left");
          if (i > 0 && i < 5) {
            c.fillStyle = "#fff";
            c.fillRect(bx, y - 1, 16, 2);
            c.fillRect(bx + bw - 16, y - 1, 16, 2);
          }
        });
        c.restore();
      },
    }],
  };
}

function networkConfig(): any {
  const build = (list: any[], q: string, kind: string) =>
    list.map(([label, x, y, w, lx, ly, lx2]: any[]) => ({
      id: String(label).split("\n")[0],
      text: String(label).split("#")[0],
      x: qx(q, x), y: qy(q, y), r: (w / 2) * 0.4783,
      lx: qx(q, lx ?? x), ly: qy(q, ly ?? y), lx2: qx(q, lx2 ?? lx ?? x), kind,
    }));
  const genes = [...build(genesNW, "nw", "g"), ...build(genesNE, "ne", "g"), ...build(genesSW, "sw", "g"), ...build(genesSE, "se", "g")];
  const paths = [...build(pathwaysNW, "nw", "p"), ...build(pathwaysNE, "ne", "p"), ...build(pathwaysSW, "sw", "p"), ...build(pathwaysSE, "se", "p")];
  const byId: any = {};
  [...genes, ...paths].forEach((n) => { byId[n.id] = n; });
  const edges: any[] = [];
  pathwayGeneLinks.forEach(([p, gs]) => {
    gs.forEach((g) => {
      if (byId[p] && byId[g]) edges.push({ x: byId[p].x, y: byId[p].y }, { x: byId[g].x, y: byId[g].y }, { x: null, y: null });
    });
  });
  const boundary = (pts: [string, number, number][]) => pts.map(([q, x, y]) => ({ x: qx(q, x), y: qy(q, y) }));
  const dash = (pts: any[]) => ({ type: "line", data: pts, borderColor: "#ff1414", borderWidth: 4, borderDash: [20, 14], tension: 0.35, pointRadius: 0, fill: false });
  return {
    type: "bubble",
    data: {
      datasets: [
        dash(boundary(outerBoundary)),
        dash(boundary(innerBoundary)),
        { label: "Pathways", data: paths, backgroundColor: "#00ab54", borderWidth: 0 },
        { label: "Genes", data: genes, backgroundColor: "#5bcefa", borderWidth: 0 },
        { type: "line", data: edges, borderColor: "#bcbcbc", borderWidth: 4, pointRadius: 0, tension: 0, spanGaps: false, fill: false },
      ],
    },
    options: {
      ...noInteraction,
      layout: { padding: 0, autoPadding: false },
      plugins: quietPlugins,
      scales: { x: { display: false, type: "linear", min: 0, max: 1450 }, y: { display: false, type: "linear", min: 2380, max: 3660, reverse: true } },
    },
    plugins: [{
      id: "networkLabels",
      afterDatasetsDraw(chart: any) {
        const c = chart.ctx, sx = chart.scales.x, sy = chart.scales.y;
        [...genes, ...paths].forEach((n) => {
          const font = `${n.kind === "g" ? "italic " : ""}29px ${SERIF}`;
          const lines = n.text.split("\n");
          lines.forEach((ln: string, k: number) => {
            put(c, ln, sx.getPixelForValue(k === 0 ? n.lx : n.lx2), sy.getPixelForValue(n.ly) + (k - (lines.length - 1) / 2) * 39, font, "#111");
          });
        });
      },
    }],
  };
}

function ChartCanvas({ left, top, width, height, build }: any) {
  const ref = useRef<HTMLCanvasElement>(null);
  useEffect(() => {
    const chart = new Chart(ref.current as any, build());
    return () => chart.destroy();
  }, []);
  return <canvas ref={ref} width={width} height={height} style={{ position: "absolute", left, top, width, height }} />;
}

const panelLetters: [string, number, number][] = [["(A)", 43, 62], ["(B)", 43, 638], ["(C)", 1281, 58], ["(D)", 45, 2445]];

export default function App() {
  return (
    <div style={{ position: "absolute", left: 0, top: 0, width: 3506, height: 3660, background: "#fff", overflow: "hidden" }}>
      <ChartCanvas left={0} top={0} width={1270} height={630} build={vennConfig} />
      <ChartCanvas left={0} top={600} width={1270} height={1820} build={() => barConfig(600)} />
      <ChartCanvas left={1270} top={0} width={2236} height={3660} build={dotConfig} />
      <ChartCanvas left={0} top={2380} width={1450} height={1280} build={networkConfig} />
      {panelLetters.map(([t, x, y]) => (
        <div key={t} style={{ position: "absolute", left: x, top: y - 37, fontFamily: SERIF, fontSize: 73, lineHeight: "74px", color: "#000", whiteSpace: "nowrap" }}>{t}</div>
      ))}
    </div>
  );
}
